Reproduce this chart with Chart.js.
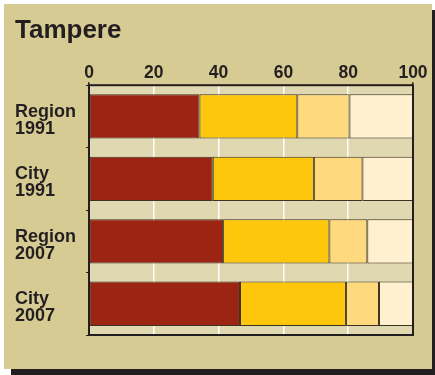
<!DOCTYPE html>
<html>
<head>
<meta charset="utf-8">
<script src="https://cdn.jsdelivr.net/npm/chart.js@4.4.1/dist/chart.umd.min.js"></script>
<style>
    html, body { margin: 0; padding: 0; background: #ffffff; }
    #panel {
        position: absolute; left: 4px; top: 4px; width: 428px; height: 365px;
        background: #d7cb94;
        box-shadow: 7px 6px 0 #231f20;
    }
    #chart { position: absolute; left: 0; top: 0; }
</style>
</head>
<body>
<div id="panel"></div>
<canvas id="chart" width="435" height="375"></canvas>
<script>
// بيانات الرسم
const categories = [["Region", "1991"], ["City", "1991"], ["Region", "2007"], ["City", "2007"]];
const seriesA = [34.1, 38.2, 41.4, 46.6];
const seriesB = [30.2, 31.2, 32.8, 32.7];
const seriesC = [16.1, 15.0, 11.7, 10.2];
const seriesD = [19.6, 15.6, 14.1, 10.5];
const xTicks = [0, 20, 40, 60, 80, 100];

const barColors = ["#9c2412", "#ffc70b", "#ffd97e", "#fff0d0"];
const inkColor = "#231f20";
const fontFamily = "'Liberation Sans', Arial, Helvetica, sans-serif";

// خلفية منطقة الرسم والإطار
const plotFrame = {
    id: "plotFrame",
    beforeDraw(chart) {
        const a = chart.chartArea, ctx = chart.ctx;
        ctx.save();
        ctx.fillStyle = "#e0d8b1";
        ctx.fillRect(a.left, a.top, a.right - a.left, a.bottom - a.top);
        ctx.restore();
    },
    afterDraw(chart) {
        const a = chart.chartArea, ctx = chart.ctx;
        ctx.save();
        ctx.strokeStyle = inkColor;
        ctx.lineWidth = 2;
        ctx.strokeRect(a.left, a.top, a.right - a.left, a.bottom - a.top);
        ctx.restore();
    }
};

const makeSet = (data, i) => ({
    data: data,
    backgroundColor: barColors[i],
    borderColor: "#3b3222",
    borderWidth: 1,
    borderSkipped: false,
    barPercentage: 0.71,
    categoryPercentage: 1.0
});

new Chart(document.getElementById("chart"), {
    type: "bar",
    data: {
        labels: categories,
        datasets: [seriesA, seriesB, seriesC, seriesD].map(makeSet)
    },
    options: {
        indexAxis: "y",
        responsive: false,
        animation: false,
        devicePixelRatio: 1,
        layout: { padding: { left: 15, right: 22, top: 0, bottom: 40 } },
        plugins: {
            legend: { display: false },
            tooltip: { enabled: false },
            title: {
                display: true,
                text: "Tampere",
                align: "start",
                color: inkColor,
                font: { family: fontFamily, size: 26, weight: "bold", lineHeight: 1.2 },
                padding: { top: 15, bottom: 0 }
            }
        },
        scales: {
            x: {
                position: "top",
                stacked: true,
                min: 0,
                max: 100,
                afterBuildTicks: (axis) => { axis.ticks = xTicks.map(v => ({ value: v })); },
                afterFit: (axis) => { axis.height = 39; },
                border: { display: false },
                grid: {
                    color: (c) => (c.tick && (c.tick.value === 0 || c.tick.value === 100)) ? "rgba(0,0,0,0)" : "#ffffff",
                    tickColor: (c) => (c.tick && (c.tick.value === 0 || c.tick.value === 100)) ? inkColor : "rgba(0,0,0,0)",
                    lineWidth: 1.5,
                    tickLength: 3
                },
                ticks: {
                    color: inkColor,
                    padding: 0,
                    maxRotation: 0,
                    font: { family: fontFamily, size: 17.5, weight: "bold", lineHeight: 1.0 }
                }
            },
            y: {
                stacked: true,
                afterFit: (axis) => { axis.width = 74; },
                border: { display: false },
                grid: {
                    offset: true,
                    drawOnChartArea: false,
                    color: inkColor,
                    tickLength: 3
                },
                ticks: {
                    color: inkColor,
                    crossAlign: "far",
                    padding: 0,
                    labelOffset: 4,
                    font: { family: fontFamily, size: 18, weight: "bold", lineHeight: 0.96 }
                }
            }
        }
    },
    plugins: [plotFrame]
});
</script>
</body>
</html>
